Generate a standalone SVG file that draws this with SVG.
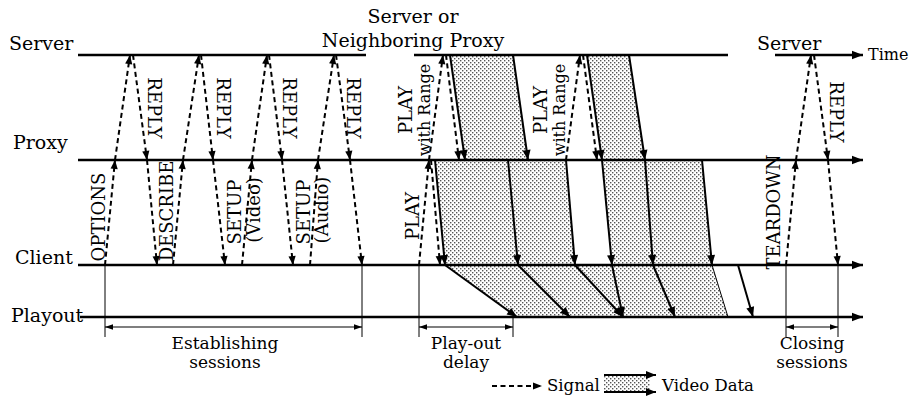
<svg xmlns="http://www.w3.org/2000/svg" width="913" height="398" viewBox="0 0 913 398">
  <defs>
    <style>
      text { font-family: "DejaVu Serif", "Liberation Serif", serif; fill: #000; }
      .lbl { font-size: 19px; }
      .msg { font-size: 18px; text-anchor: middle; }
      .rng { font-size: 16px; }
      .note { font-size: 17px; text-anchor: middle; }
      .leg { font-size: 16.5px; }
      .tl { stroke: #000; stroke-width: 2.4; fill: none; }
      .axis { marker-end: url(#ah-axis); }
      .sig { stroke: #000; stroke-width: 2; stroke-dasharray: 5 3.5; fill: none; marker-end: url(#ah-sig); }
      .vid { stroke: #000; stroke-width: 2; fill: none; marker-end: url(#ah-vid); }
      .thin { stroke: #000; stroke-width: 1; fill: none; }
      .dim { stroke: #000; stroke-width: 1.2; fill: none; marker-start: url(#ah-dim); marker-end: url(#ah-dim); }
      .shade { fill: url(#dots); stroke: none; }
    </style>
    <!-- stippled fill for video data flows -->
    <pattern id="dots" width="4" height="4" patternUnits="userSpaceOnUse">
      <rect width="4" height="4" fill="#fff"/>
      <rect x="0" y="0" width="1.4" height="1.4" fill="#555"/>
      <rect x="2" y="2" width="1.4" height="1.4" fill="#555"/>
    </pattern>
    <marker id="ah-axis" markerUnits="userSpaceOnUse" markerWidth="14" markerHeight="10" refX="0" refY="0" orient="auto" overflow="visible">
      <path d="M-11,-4.2 L0,0 L-11,4.2 z" fill="#000"/>
    </marker>
    <marker id="ah-sig" markerUnits="userSpaceOnUse" markerWidth="12" markerHeight="10" refX="0" refY="0" orient="auto" overflow="visible">
      <path d="M-9,-3.6 L0,0 L-9,3.6 z" fill="#000"/>
    </marker>
    <marker id="ah-vid" markerUnits="userSpaceOnUse" markerWidth="12" markerHeight="10" refX="0" refY="0" orient="auto" overflow="visible">
      <path d="M-10,-4 L0,0 L-10,4 z" fill="#000"/>
    </marker>
    <marker id="ah-dim" markerUnits="userSpaceOnUse" markerWidth="10" markerHeight="8" refX="0" refY="0" orient="auto-start-reverse" overflow="visible">
      <path d="M-8,-2.8 L0,0 L-8,2.8 z" fill="#000"/>
    </marker>
  </defs>

  <rect width="913" height="398" fill="#fff"/>

  <!-- video data flows (stippled bands) -->
  <g id="data-flows">
    <polygon class="shade" points="450,55 513,55 528,160 465,160"/>
    <polygon class="shade" points="587,55 629,55 645,160 602,160"/>
    <polygon class="shade" points="435,160 566,160 575,265 445,265"/>
    <polygon class="shade" points="602,160 702,160 712,265 612,265"/>
    <polygon class="shade" points="445,265 712,265 728,317 517,317"/>
  </g>

  <!-- timelines -->
  <g id="server">
    <path class="tl" d="M78,55 H366"/>
    <text class="lbl" x="9" y="50">Server</text>
  </g>
  <g id="neighbor-server">
    <path class="tl" d="M414,55 H728"/>
    <text class="lbl" x="413" y="23" text-anchor="middle">Server or</text>
    <text class="lbl" x="413" y="47" text-anchor="middle">Neighboring Proxy</text>
  </g>
  <g id="closing-server">
    <path class="tl axis" d="M775,55 H863"/>
    <text class="lbl" x="757" y="50">Server</text>
    <text x="868" y="60" font-size="16">Time</text>
  </g>
  <g id="proxy">
    <path class="tl axis" d="M78,160 H863"/>
    <text class="lbl" x="13" y="149">Proxy</text>
  </g>
  <g id="client">
    <path class="tl axis" d="M78,265 H863"/>
    <text class="lbl" x="15" y="264">Client</text>
  </g>
  <g id="playout">
    <path class="tl axis" d="M80,317 H863"/>
    <text class="lbl" x="11" y="322">Playout</text>
  </g>

  <!-- messages and data packets -->
  <g id="connectors">
    <!-- OPTIONS / REPLY -->
    <path class="sig" d="M105,265 L115,160"/>
    <path class="sig" d="M115,160 L130,55"/>
    <path class="sig" d="M133,55 L147,160"/>
    <path class="sig" d="M147,160 L157,265"/>
    <!-- DESCRIBE / REPLY -->
    <path class="sig" d="M173,265 L183,160"/>
    <path class="sig" d="M183,160 L199,55"/>
    <path class="sig" d="M201,55 L213,160"/>
    <path class="sig" d="M213,160 L225,265"/>
    <!-- SETUP (Video) / REPLY -->
    <path class="sig" d="M242,265 L252,160"/>
    <path class="sig" d="M252,160 L267,55"/>
    <path class="sig" d="M269,55 L282,160"/>
    <path class="sig" d="M282,160 L293,265"/>
    <!-- SETUP (Audio) / REPLY -->
    <path class="sig" d="M310,265 L318,160"/>
    <path class="sig" d="M318,160 L334,55"/>
    <path class="sig" d="M336,55 L350,160"/>
    <path class="sig" d="M350,160 L362,265"/>
    <!-- PLAY -->
    <path class="sig" d="M419,265 L429,160"/>
    <path class="sig" d="M429,160 L443,55"/>
    <path class="sig" d="M446,55 L459,160"/>
    <path class="sig" d="M431,160 L440,265"/>
    <path class="sig" d="M566,160 L580,55"/>
    <path class="sig" d="M583,55 L597,160"/>
    <!-- TEARDOWN / REPLY -->
    <path class="sig" d="M786,265 L796,160"/>
    <path class="sig" d="M796,160 L811,55"/>
    <path class="sig" d="M814,55 L828,160"/>
    <path class="sig" d="M828,160 L838,265"/>

    <!-- video: server to proxy -->
    <path class="vid" d="M450,55 L465,160"/>
    <path class="vid" d="M513,55 L528,160"/>
    <path class="vid" d="M587,55 L602,160"/>
    <path class="vid" d="M629,55 L645,160"/>
    <!-- video: proxy to client -->
    <path class="vid" d="M435,160 L445,265"/>
    <path class="vid" d="M508,160 L518,265"/>
    <path class="vid" d="M566,160 L575,265"/>
    <path class="vid" d="M602,160 L612,265"/>
    <path class="vid" d="M645,160 L653,265"/>
    <path class="vid" d="M702,160 L712,265"/>
    <!-- video: client to playout -->
    <path class="vid" d="M445,265 L517,317"/>
    <path class="vid" d="M518,265 L570,317"/>
    <path class="vid" d="M575,265 L623,317"/>
    <path class="vid" d="M612,265 L623,317"/>
    <path class="vid" d="M653,265 L675,317"/>
    <path class="thin" d="M712,265 L728,317"/>
    <path class="vid" d="M738,265 L753,317"/>
  </g>

  <!-- message names -->
  <g id="message-labels">
    <text class="msg" transform="translate(105,217) rotate(-90)">OPTIONS</text>
    <text class="msg" transform="translate(173,211) rotate(-90)">DESCRIBE</text>
    <text class="msg" transform="translate(241,212) rotate(-90)">SETUP</text>
    <text class="msg" transform="translate(260,210) rotate(-90)">(Video)</text>
    <text class="msg" transform="translate(310,212) rotate(-90)">SETUP</text>
    <text class="msg" transform="translate(328,210) rotate(-90)">(Audio)</text>
    <text class="msg" transform="translate(419,216) rotate(-90)">PLAY</text>
    <text class="msg" transform="translate(412,110) rotate(-90)">PLAY</text>
    <text class="msg rng" transform="translate(430,110) rotate(-90)">with Range</text>
    <text class="msg" transform="translate(547,110) rotate(-90)">PLAY</text>
    <text class="msg rng" transform="translate(565,110) rotate(-90)">with Range</text>
    <text class="msg" transform="translate(780,212) rotate(-90)">TEARDOWN</text>
    <text class="msg" transform="translate(148,108) rotate(90)">REPLY</text>
    <text class="msg" transform="translate(217,108) rotate(90)">REPLY</text>
    <text class="msg" transform="translate(283,108) rotate(90)">REPLY</text>
    <text class="msg" transform="translate(347,108) rotate(90)">REPLY</text>
    <text class="msg" transform="translate(830,112) rotate(90)">REPLY</text>
  </g>

  <!-- interval markers -->
  <g id="intervals">
    <path class="thin" d="M105,265 V337 M362,265 V337 M419,265 V337 M513,317 V337 M786,265 V337 M838,265 V337"/>
    <path class="dim" d="M105,327 H362"/>
    <path class="dim" d="M419,327 H513"/>
    <path class="dim" d="M786,327 H838"/>
    <text class="note" x="225" y="349">Establishing</text>
    <text class="note" x="225" y="368">sessions</text>
    <text class="note" x="466" y="349">Play-out</text>
    <text class="note" x="466" y="368">delay</text>
    <text class="note" x="812" y="349">Closing</text>
    <text class="note" x="812" y="368">sessions</text>
  </g>

  <!-- legend -->
  <g id="legend">
    <path class="sig" d="M492,386 H542"/>
    <text class="leg" x="547" y="391">Signal</text>
    <rect class="shade" x="604" y="375" width="46" height="17"/>
    <path class="vid" d="M604,375 H656"/>
    <path class="vid" d="M604,392 H656"/>
    <text class="leg" x="662" y="391">Video Data</text>
  </g>
</svg>
